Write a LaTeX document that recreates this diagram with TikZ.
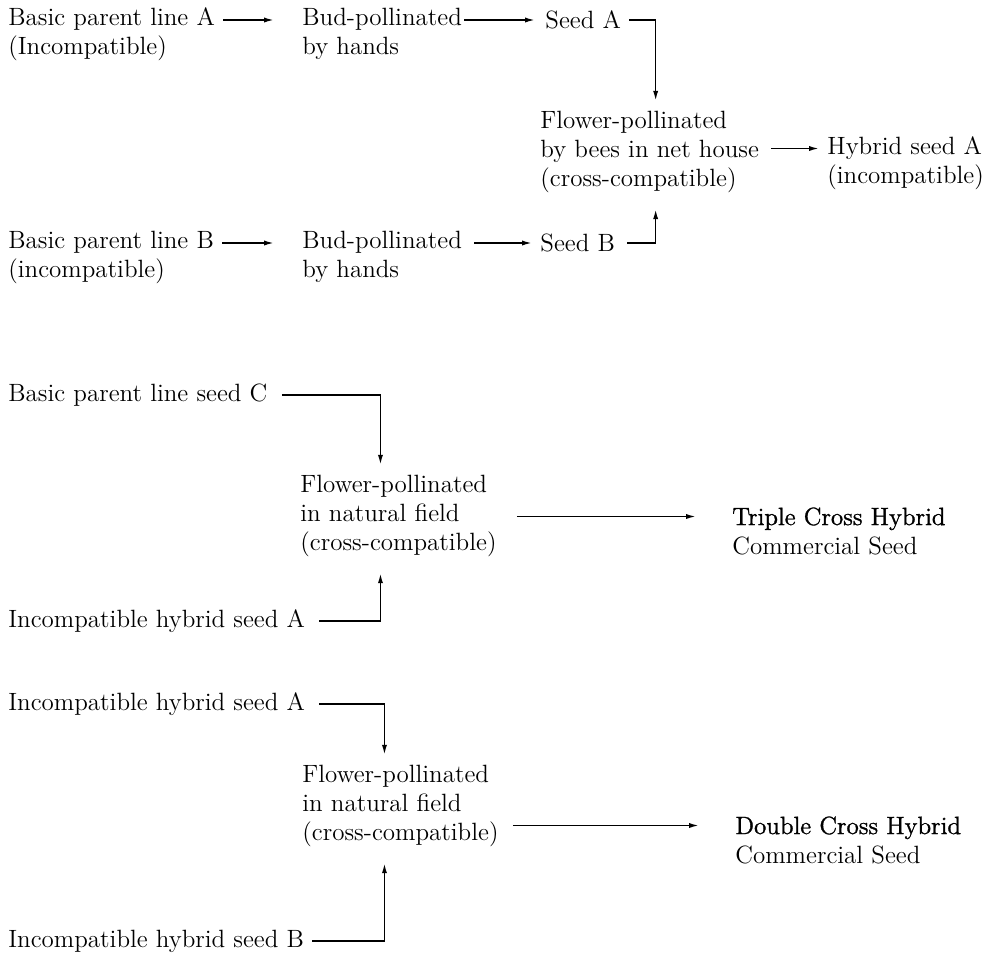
\documentclass[tikz,border=0pt]{standalone}
\usepackage{fontspec}
\usepackage{tikz}
\usetikzlibrary{arrows.meta,calc}
\newfontfamily\semib[FakeBold=1.2]{Latin Modern Roman}
\tikzset{>={Latex[length=5pt,width=2.6pt]}}
\tikzset{txt/.style={inner sep=0pt, anchor=west, align=left,
    font=\fontsize{12.5}{14.5}\selectfont},
  flow/.style={->, line width=0.8pt}}

\begin{document}
\begin{tikzpicture}[x=0.5pt,y=-0.5pt]
  \useasboundingbox (0,0) rectangle (986,965);
  % single cross A x B
  \node[txt] (lineA) at (8,34) {Basic parent line A\\(Incompatible)};
  \node[txt] (budA) at (302,34) {Bud-pollinated\\by hands};
  \node[txt] (seedA) at (545,20) {Seed A};
  \node[txt] (flowA) at (540,152) {Flower-pollinated\\by bees in net house\\(cross-compatible)};
  \node[txt] (hybA) at (827,163) {Hybrid seed A\\(incompatible)};
  \node[txt] (lineB) at (8,257) {Basic parent line B\\(incompatible)};
  \node[txt] (budB) at (302,257) {Bud-pollinated\\by hands};
  \node[txt] (seedB) at (540,243) {Seed B};
  \draw[flow] ([xshift=4pt]lineA.east |- seedA.west) -- ([xshift=-14pt]budA.west |- seedA.west);
  \draw[flow] ([xshift=1pt]budA.east |- seedA.west) -- ([xshift=-5pt]seedA.west);
  \draw[flow] ([xshift=4pt]seedA.east) -| ([xshift=3pt,yshift=5pt]flowA.north);
  \draw[flow] ([xshift=4pt]lineB.east |- seedB.west) -- ([xshift=-14pt]budB.west |- seedB.west);
  \draw[flow] ([xshift=6pt]budB.east |- seedB.west) -- ([xshift=-4pt]seedB.west);
  \draw[flow] ([xshift=6pt]seedB.east) -| ([xshift=3pt,yshift=-8pt]flowA.south);
  \draw[flow] ([xshift=6pt]flowA.east |- hybA.west) ++(0,7.25pt) -- ([xshift=-4pt,yshift=7.25pt]hybA.west);
  % triple cross
  \node[txt] (seedC) at (8,395) {Basic parent line seed C};
  \node[txt] (flowC) at (300,516) {Flower-pollinated\\in natural field\\(cross-compatible)};
  \node[txt] (hybA2) at (8,621) {Incompatible hybrid seed A};
  \node[txt] (triple) at (732,531) {{\semib Triple Cross Hybrid}\\Commercial Seed};
  \draw[flow] ([xshift=7pt]seedC.east) -| ([xshift=-9pt,yshift=5pt]flowC.north);
  \draw[flow] ([xshift=7pt]hybA2.east) -| ([xshift=-9pt,yshift=-8pt]flowC.south);
  \draw[flow] ([xshift=10pt]flowC.east |- triple.west) ++(0,7.25pt) -- ([xshift=-18pt,yshift=7.25pt]triple.west);
  % double cross
  \node[txt] (hybA3) at (8,704) {Incompatible hybrid seed A};
  \node[txt] (flowD) at (302,806) {Flower-pollinated\\in natural field\\(cross-compatible)};
  \node[txt] (hybB) at (8,941) {Incompatible hybrid seed B};
  \node[txt] (double) at (735,840) {{\semib Double Cross Hybrid}\\Commercial Seed};
  \draw[flow] ([xshift=7pt]hybA3.east) -| ([xshift=-8pt,yshift=5pt]flowD.north);
  \draw[flow] ([xshift=4pt]hybB.east) -| ([xshift=-8pt,yshift=-8pt]flowD.south);
  \draw[flow] ([xshift=7pt]flowD.east |- double.west) ++(0,7.25pt) -- ([xshift=-18pt,yshift=7.25pt]double.west);
\end{tikzpicture}
\end{document}
